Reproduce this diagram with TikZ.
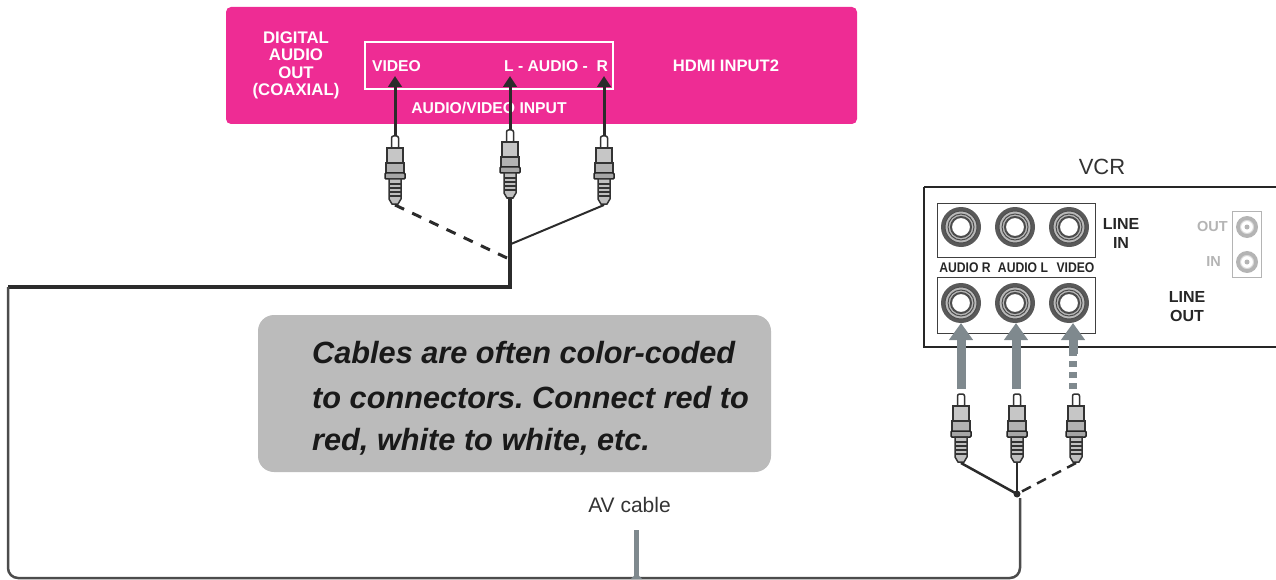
\documentclass[tikz,border=0pt]{standalone}
\usepackage{fontspec}
\setmainfont{Liberation Sans}
\frenchspacing
\usetikzlibrary{arrows.meta, positioning}
\definecolor{panelpink}{HTML}{EE2C94}
\definecolor{notegray}{HTML}{BBBBBB}
\definecolor{arrowgray}{HTML}{7F898E}
\definecolor{wiredark}{HTML}{2B2B2B}
\definecolor{faintgray}{HTML}{B4B4B4}
\tikzset{
	panellabel/.style = {text = white, font = \fontsize{15.7}{17.5}\selectfont\bfseries, align = center, inner sep = 0},
	vcrlabel/.style = {text = black!85, font = \fontsize{16}{19}\selectfont\bfseries, align = center, inner sep = 0},
	jacklabel/.style = {text = black!85, font = \fontsize{14}{16}\selectfont\bfseries, xscale = 0.87, inner sep = 0},
	notelabel/.style = {text = black!90, font = \fontsize{30.7}{36}\selectfont\bfseries\itshape, anchor = west, inner sep = 0},
	plaintag/.style = {text = black!80, inner sep = 0},
	blackarrow/.style = {-{Triangle[width=13.5pt,length=11pt]}, line width = 3pt, color = wiredark},
	grayarrow/.style = {-{Triangle[width=23pt,length=17pt]}, line width = 9pt, color = arrowgray},
	cable/.style = {color = wiredark, line width = 2.5pt},
	rcaplug/.pic = {
		\draw[line width = 1.5pt, color = black!80, fill = white, rounded corners = 2pt] (-3.5,0) rectangle (3.5,13);
		\draw[line width = 1.5pt, color = black!80, fill = gray!45] (-8,12) rectangle (8,27);
		\draw[line width = 1.5pt, color = black!80, fill = gray!60] (-9,27) rectangle (9,39);
		\draw[line width = 1.5pt, color = black!85, fill = gray!70, rounded corners = 1pt] (-10,37) rectangle (10,43);
		\draw[line width = 1.5pt, color = black!80, fill = gray!50] (-6,43) -- (-6,63) -- (-3,68) -- (3,68) -- (6,63) -- (6,43) -- cycle;
		\draw[line width = 1.2pt, color = black!80] (-6,48) -- (6,48) (-6,52) -- (6,52) (-6,56) -- (6,56) (-6,60) -- (6,60);
		\coordinate (-tip) at (0,0);
		\coordinate (-tail) at (0,69);
	},
	avjack/.pic = {
		\fill[black!65] (0,0) circle (20);
		\draw[line width = 1pt, color = black!70, fill = gray!55] (0,0) circle (16);
		\draw[line width = 1pt, color = black!70] (0,0) circle (13);
		\draw[line width = 2pt, color = black!70, fill = white] (0,0) circle (10);
	},
	smalljack/.pic = {
		\fill[faintgray] (0,0) circle (11);
		\draw[line width = 1pt, color = faintgray!50, fill = white] (0,0) circle (6.5);
		\fill[faintgray] (0,0) circle (2.5);
	},
}
\begin{document}
\begin{tikzpicture}[x = 1pt, y = -1pt]
		\useasboundingbox (0,0) rectangle (1276,580);
		\fill[panelpink, rounded corners = 5pt] (226,7) rectangle (857,124);
		\draw[white, line width = 2pt] (365,42) rectangle (613,89);
		\node (digitalout) [panellabel, font = \fontsize{16.8}{17.5}\selectfont\bfseries] at (296,65.5) {DIGITAL\\AUDIO\\OUT\\(COAXIAL)};
		\node (videotag) [panellabel] at (396.5,66) {VIDEO};
		\node (audiotag) [panellabel] at (556,66) {L - AUDIO -\ \ R};
		\node (hdmitag) [panellabel, font = \fontsize{16.6}{17.5}\selectfont\bfseries] at (726,66) {HDMI INPUT2};
		\node (avinput) [panellabel] at (489,108) {AUDIO/VIDEO INPUT};

		\pic (plugV) at (395,136) {rcaplug};
		\pic (plugL) at (510,130) {rcaplug};
		\pic (plugR) at (604,136) {rcaplug};
		\coordinate (avV) at (395,76);
		\coordinate (avL) at (510,76);
		\coordinate (avR) at (604,76);
		\draw[blackarrow] (plugV-tip) -- (avV);
		\draw[blackarrow] (plugL-tip) -- (avL);
		\draw[blackarrow] (plugR-tip) -- (avR);

		\coordinate (dashend) at (507,258);
		\coordinate (branch) at (511,244);
		\coordinate (turnA) at (510,287);
		\coordinate (turnB) at (8,287);
		\coordinate (turnC) at (8,578);
		\coordinate (turnD) at (1020,578);
		\coordinate (hubtop) at (1017,494);
		\coordinate (hubfoot) at (1020,498);
		\draw[cable, line width = 3pt, dash pattern = on 10pt off 9pt] (plugV-tail) -- (dashend);
		\draw[cable, line width = 2pt] (plugR-tail) -- (branch);
		\draw[cable, line width = 3.5pt] (plugL-tail) -- (turnA) -- (turnB);
		\draw[cable, color = black!70, line width = 2.5pt, rounded corners = 10pt] (turnB) -- (turnC) -- (turnD) -- (hubfoot);

		\node (vcrtitle) [plaintag, font = \fontsize{22}{24}\selectfont] at (1102,167) {VCR};
		\draw[black!85, line width = 2pt] (924,187) -- (1277,187) (924,187) -- (924,347) -- (1277,347);
		\draw[black!75, line width = 1pt] (937,203) rectangle (1095,257);
		\draw[black!75, line width = 1pt] (937,277) rectangle (1095,333);
		\pic (inR) at (961,227) {avjack};
		\pic (inL) at (1015,227) {avjack};
		\pic (inV) at (1069,227) {avjack};
		\pic (outR) at (961,303) {avjack};
		\pic (outL) at (1015,303) {avjack};
		\pic (outV) at (1069,303) {avjack};
		\node (audioR) [jacklabel] at (965,268) {AUDIO R};
		\node (audioL) [jacklabel] at (1023,268) {AUDIO L};
		\node (videoV) [jacklabel] at (1075.5,268) {VIDEO};
		\node (linein) [vcrlabel] at (1121,233) {LINE\\IN};
		\node (lineout) [vcrlabel] at (1187,307) {LINE\\OUT};
		\draw[faintgray, line width = 1pt] (1232,211) rectangle (1261,277);
		\pic (rfout) at (1247,227) {smalljack};
		\pic (rfin) at (1247,262) {smalljack};
		\node (outtag) [vcrlabel, text = faintgray, font = \fontsize{14.5}{19}\selectfont\bfseries] at (1212.5,227) {OUT};
		\node (intag) [vcrlabel, text = faintgray, font = \fontsize{14.5}{19}\selectfont\bfseries] at (1213.5,262) {IN};

		\pic (lineR) at (961,394) {rcaplug};
		\pic (lineL) at (1017,394) {rcaplug};
		\pic (lineV) at (1076,394) {rcaplug};
		\coordinate (shaftR) at (961,389);
		\coordinate (shaftL) at (1016,389);
		\coordinate (shaftV) at (1073,389);
		\coordinate (stubV) at (1073,354);
		\coordinate (jackR) at (961,323);
		\coordinate (jackL) at (1016,323);
		\coordinate (jackV) at (1073,323);
		\draw[grayarrow] (shaftR) -- (jackR);
		\draw[grayarrow] (shaftL) -- (jackL);
		\draw[color = arrowgray, line width = 8pt, dash pattern = on 6pt off 5pt] (shaftV) -- (stubV);
		\draw[grayarrow] (stubV) -- (jackV);
		\draw[cable] (lineR-tail) -- (hubtop);
		\draw[cable] (lineL-tail) -- (hubtop);
		\draw[cable, dash pattern = on 10pt off 7pt] (lineV-tail) -- (hubtop);
		\fill[wiredark] (hubtop) circle (3.5);

		\fill[notegray, rounded corners = 16pt] (258,315) rectangle (771,472);
		\node (noteA) [notelabel] at (312,353) {Cables are often color-coded};
		\node (noteB) [notelabel] at (312,398) {to connectors. Connect red to};
		\node (noteC) [notelabel] at (312,442) {red, white to white, etc.};

		\node (avcable) [plaintag, font = \fontsize{21}{24}\selectfont] at (629.5,505) {AV cable};
		\coordinate (avtop) at (636.5,530);
		\coordinate (avfoot) at (636.5,578);
		\draw[arrowgray, line width = 4.5pt] (avtop) -- (avfoot);
		\fill[arrowgray] (631,579) -- (636.5,573) -- (642,579) -- cycle;
\end{tikzpicture}
\end{document}
